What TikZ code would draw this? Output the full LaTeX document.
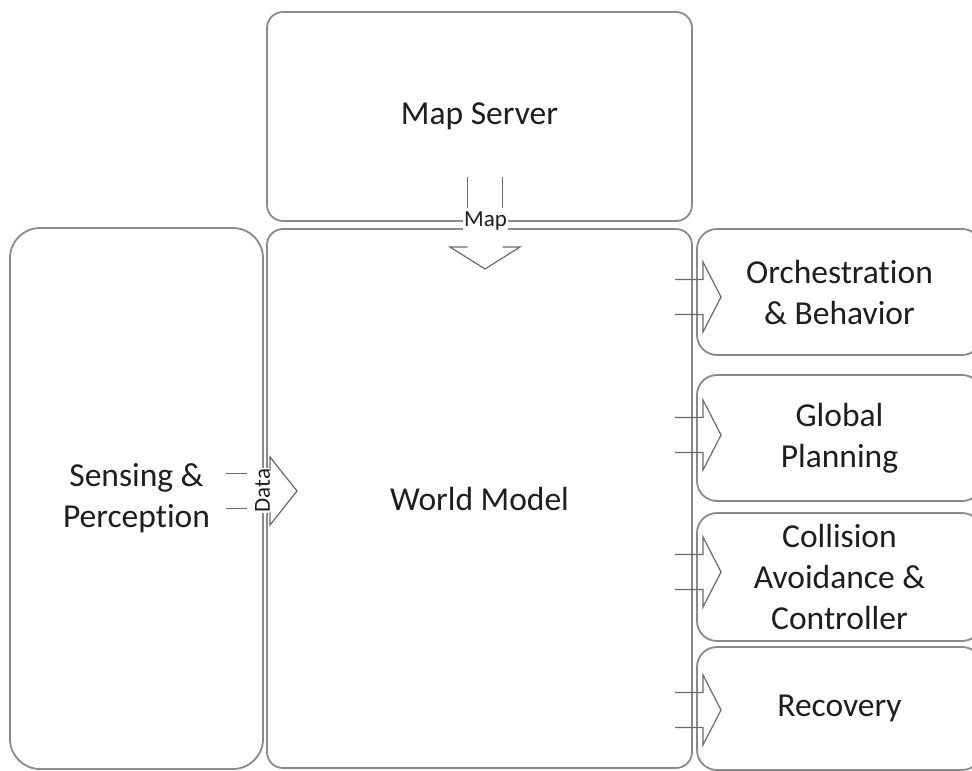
\documentclass[tikz,border=0pt]{standalone}
\usepackage{fontspec}
\setmainfont{Carlito}[Ligatures=NoCommon]
\usetikzlibrary{calc}
\definecolor{boxline}{HTML}{8A8A8A}
\definecolor{arrline}{HTML}{6A6A6A}
\definecolor{txt}{HTML}{1E1E1E}
\tikzset{
  box/.style={draw=boxline, line width=1.8pt, fill=white, inner sep=0pt, outer sep=0pt,
    align=center, text=txt, font=\fontsize{33.5}{41}\selectfont},
  rightbox/.style={box, rounded corners=20pt, minimum width=285pt},
  arrowline/.style={draw=arrline, line width=1.2pt, line join=miter},
  smalllabel/.style={fill=white, inner sep=1pt, text=txt, font=\fontsize{23}{24}\selectfont},
  rarr/.pic={\draw[arrowline] (-46,-17.5) -- (-18,-17.5) -- (-18,-35) -- (0,0) -- (-18,35) -- (-18,17.5) -- (-46,17.5);},
  datarr/.pic={
    \draw[arrowline] (-71,-17.5) -- (-50,-17.5);
    \draw[arrowline] (-71,17.5) -- (-50,17.5);
    \draw[arrowline] (-27,-21) -- (-27,-34) -- (0,0) -- (-27,34) -- (-27,21);},
  maparr/.pic={
    \draw[arrowline] (-17.5,-92) -- (-17.5,-61);
    \draw[arrowline] (17.5,-92) -- (17.5,-61);
    \draw[arrowline] (-17.5,-22) -- (-35,-22) -- (0,0) -- (35,-22) -- (17.5,-22);}
}
\begin{document}
\begin{tikzpicture}[x=1pt,y=-1pt]
\useasboundingbox (0,0) rectangle (972,771);
\clip (0,0) rectangle (972,771);
% boxes
\node[box, rounded corners=16pt, minimum width=425pt, minimum height=209pt] (ms) at (479.5,116.5) {Map Server};
\node[box, rounded corners=16pt, minimum width=425pt, minimum height=539pt] (wm) at (479.5,498.5) {World Model};
\node[box, rounded corners=30pt, minimum width=253pt, minimum height=541pt] (sp) at (136.5,498.5) {Sensing \&\\Perception};
\node[rightbox, minimum height=126pt] (ob) at (839.5,292) {Orchestration\\\& Behavior};
\node[rightbox, minimum height=126pt] (gp) at (839.5,438) {Global\\Planning};
\node[rightbox, minimum height=128pt] (ca) at (839.5,577) {Collision\\Avoidance \&\\Controller};
\node[rightbox, minimum height=123pt] (rc) at (839.5,708.5) {Recovery};
% arrows
\coordinate (maptip) at ($(ms.south)+(5.5,48)$);
\pic at (maptip) {maparr};
\coordinate (datatip) at ($(wm.west)+(30,-7.5)$);
\pic at (datatip) {datarr};
\pic at ($(ob.west)+(24,5)$) {rarr};
\pic at ($(gp.west)+(24,-3)$) {rarr};
\pic at ($(ca.west)+(24,-5)$) {rarr};
\pic at ($(rc.west)+(24,1.5)$) {rarr};
% labels
\node[smalllabel, inner ysep=0pt] (maplabel) at (485.5,221) {Map};
\node[smalllabel, rotate=90, inner ysep=0pt] (datalabel) at (262.5,490.5) {Data};
\end{tikzpicture}
\end{document}
